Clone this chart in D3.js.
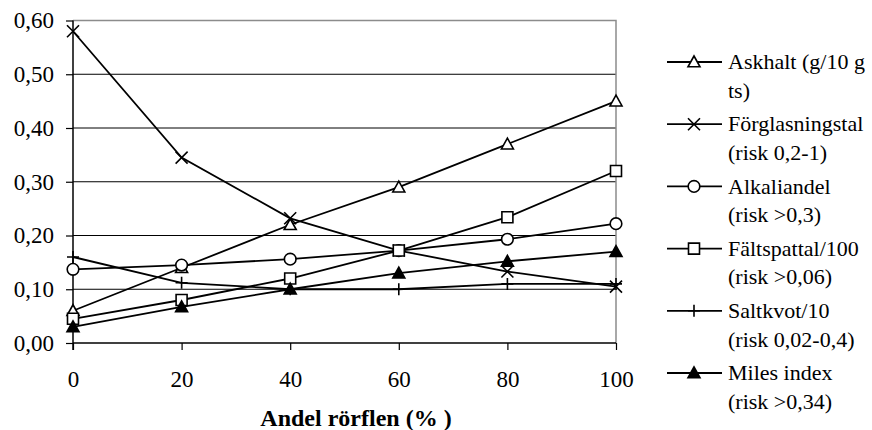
<!DOCTYPE html>
<html>
<meta charset="utf-8">
<title>Andel rörflen</title>
<style>
body { margin: 0; background: #fff; }
.grid line { stroke: #000; stroke-width: 1px; }
.border { fill: none; stroke: #8c8c8c; stroke-width: 1.5px; }
.series path.line { fill: none; stroke: #000; stroke-width: 1.8px; }
</style>
<script src="https://d3js.org/d3.v7.min.js"></script>
<body>
<script>
// x categories (Andel rörflen, %)
const andel = [0, 20, 40, 60, 80, 100];
const yTicks = [0, 0.1, 0.2, 0.3, 0.4, 0.5, 0.6];

// series values
const askhalt = [0.06, 0.14, 0.22, 0.29, 0.37, 0.45];
const forglasningstal = [0.58, 0.345, 0.232, 0.172, 0.133, 0.105];
const alkaliandel = [0.137, 0.145, 0.156, 0.172, 0.193, 0.222];
const faltspattal = [0.045, 0.08, 0.12, 0.172, 0.234, 0.32];
const saltkvot = [0.16, 0.112, 0.10, 0.10, 0.11, 0.11];
const miles = [0.03, 0.067, 0.10, 0.13, 0.152, 0.17];

const legendLines = [
  ["Askhalt (g/10 g", "ts)"],
  ["Förglasningstal", "(risk 0,2-1)"],
  ["Alkaliandel", "(risk >0,3)"],
  ["Fältspattal/100", "(risk >0,06)"],
  ["Saltkvot/10", "(risk 0,02-0,4)"],
  ["Miles index", "(risk >0,34)"]
];
const markerKinds = ["triangle", "x", "circle", "square", "plus", "triangleFilled"];
const seriesValues = [askhalt, forglasningstal, alkaliandel, faltspattal, saltkvot, miles];

// marker shapes, size = half width in px
const shapes = {
  triangle: {draw(c, r) { c.moveTo(0, -r); c.lineTo(r, r * 0.8); c.lineTo(-r, r * 0.8); c.closePath(); }},
  triangleFilled: {draw(c, r) { c.moveTo(0, -r); c.lineTo(r, r * 0.8); c.lineTo(-r, r * 0.8); c.closePath(); }},
  square: {draw(c, r) { c.rect(-r, -r, 2 * r, 2 * r); }},
  circle: {draw(c, r) { c.moveTo(r, 0); c.arc(0, 0, r, 0, 2 * Math.PI); }},
  x: {draw(c, r) { c.moveTo(-r, -r); c.lineTo(r, r); c.moveTo(r, -r); c.lineTo(-r, r); }},
  plus: {draw(c, r) { c.moveTo(-r, 0); c.lineTo(r, 0); c.moveTo(0, -r); c.lineTo(0, r); }}
};
const markerSize = {triangle: 6, triangleFilled: 6, square: 5.5, circle: 5.8, x: 6, plus: 6};

const width = 872, height = 430;
const margin = {left: 73, right: 256, top: 20.5, bottom: 87};
const serif = "'Liberation Serif', Tinos, 'Times New Roman', Times";

const svg = d3.select("body").append("svg")
  .attr("width", width)
  .attr("height", height);

const x = d3.scaleLinear().domain([0, 100]).range([margin.left, width - margin.right]);
const y = d3.scaleLinear().domain([0, 0.6]).range([height - margin.bottom, margin.top]);

// gridlines
svg.append("g").attr("class", "grid")
  .selectAll("line")
  .data(yTicks.slice(1, -1))
  .join("line")
    .attr("x1", x(0)).attr("x2", x(100))
    .attr("y1", d => y(d)).attr("y2", d => y(d));

// plot border (top and right)
svg.append("path").attr("class", "border")
  .attr("d", `M${x(0)},${y(0.6)}H${x(100)}V${y(0)}`);

// y axis
const yAxis = svg.append("g")
  .attr("transform", `translate(${x(0)},0)`)
  .call(d3.axisLeft(y).tickValues(yTicks).tickSize(7).tickPadding(12)
    .tickFormat(d => d3.format(".2f")(d).replace(".", ",")));

// x axis
const xAxis = svg.append("g")
  .attr("transform", `translate(0,${y(0)})`)
  .call(d3.axisBottom(x).tickValues(andel).tickSize(7).tickPadding(21).tickFormat(d3.format("d")));

for (const ax of [xAxis, yAxis]) {
  ax.select(".domain").attr("stroke", "#000").attr("stroke-width", 1.5);
  ax.selectAll(".tick line").attr("stroke", "#000").attr("stroke-width", 1.2);
  ax.selectAll("text").attr("font-size", 23).attr("fill", "#000")
    .style("font-family", serif);
}
xAxis.select(".domain").attr("d", `M${x(0)},0H${x(100)}`);
yAxis.select(".domain").attr("d", `M0,${y(0) + 7}V${y(0.6)}`);

// x axis title
svg.append("text")
  .attr("x", 356)
  .attr("y", 426)
  .attr("text-anchor", "middle")
  .attr("font-size", 24)
  .attr("font-weight", "bold")
  .style("font-family", serif)
  .text("Andel rörflen (% )");

// series
const line = d3.line().x((d, i) => x(andel[i])).y(d => y(d));

const series = svg.selectAll("g.series")
  .data(seriesValues.map((v, i) => ({values: v, kind: markerKinds[i]})))
  .join("g").attr("class", "series");

series.append("path").attr("class", "line").attr("d", d => line(d.values));

function drawMarkers(sel, kind) {
  sel.attr("d", d3.symbol().type(shapes[kind]).size(markerSize[kind]))
    .attr("fill", kind === "triangleFilled" ? "#000" : (kind === "x" || kind === "plus" ? "none" : "#fff"))
    .attr("stroke", "#000")
    .attr("stroke-width", 1.6);
}

series.each(function(s) {
  d3.select(this).selectAll("path.marker")
    .data(s.values)
    .join("path").attr("class", "marker")
      .attr("transform", (d, i) => `translate(${x(andel[i])},${y(d)})`)
      .call(drawMarkers, s.kind);
});

// legend
const legendY0 = 62, legendStep = 62.2, lineGap = 28.5;
const legend = svg.append("g").selectAll("g")
  .data(legendLines)
  .join("g")
    .attr("transform", (d, i) => `translate(0,${legendY0 + i * legendStep})`);

legend.append("line")
  .attr("x1", 667).attr("x2", 722)
  .attr("stroke", "#000").attr("stroke-width", 1.8);

legend.append("path")
  .attr("transform", "translate(694,0)")
  .each(function(d, i) { d3.select(this).call(drawMarkers, markerKinds[i]); });

legend.append("text")
  .attr("x", 728)
  .attr("font-size", 22)
  .style("font-family", serif)
  .selectAll("tspan")
  .data(d => d)
  .join("tspan")
    .attr("x", 728)
    .attr("y", (d, i) => i * lineGap)
    .attr("dy", "0.33em")
    .text(d => d);
</script>
</body>
</html>
